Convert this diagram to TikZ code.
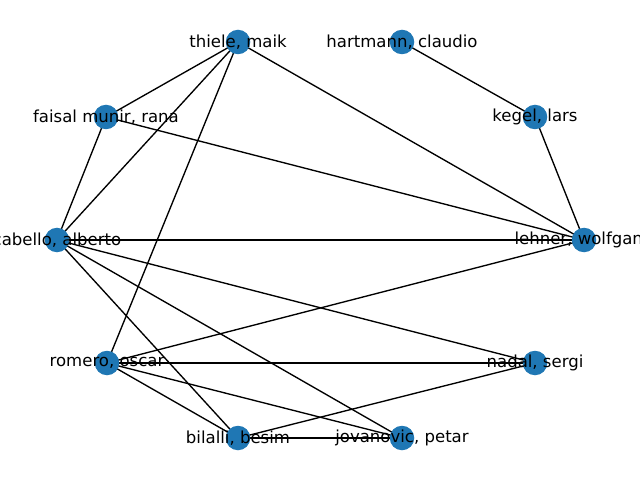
\documentclass[tikz,border=0pt]{standalone}
\usepackage{fontspec}
\setmainfont{DejaVu Sans}
\definecolor{nblue}{HTML}{1F77B4}
\begin{document}
\begin{tikzpicture}[x=1bp,y=-1bp,
  vtx/.style={circle,fill=nblue,minimum size=24.5bp,inner sep=0pt},
  lbl/.style={font=\fontsize{16.6}{20}\selectfont,inner sep=0pt},
  edge/.style={line width=1.35bp,black}]
\useasboundingbox (0,0) rectangle (640,480);
\clip (0,0) rectangle (640,480);
\coordinate (thiele) at (238,42);
\coordinate (hartmann) at (402,42);
\coordinate (faisal) at (106,117);
\coordinate (kegel) at (535,117);
\coordinate (cabello) at (57,240);
\coordinate (lehner) at (584,240);
\coordinate (romero) at (107,363);
\coordinate (nadal) at (535,363);
\coordinate (bilalli) at (238,438);
\coordinate (jovanovic) at (402,438);
\foreach \a/\b in {thiele/faisal,thiele/cabello,thiele/romero,thiele/lehner,hartmann/kegel,kegel/lehner,faisal/cabello,faisal/lehner,cabello/lehner,cabello/nadal,cabello/jovanovic,cabello/bilalli,romero/lehner,romero/nadal,romero/bilalli,romero/jovanovic,bilalli/jovanovic,bilalli/nadal}
  \draw[edge] (\a) -- (\b);
\foreach \n in {thiele,hartmann,faisal,kegel,cabello,lehner,romero,nadal,bilalli,jovanovic}
  \node[vtx] (v\n) at (\n) {};
\node[lbl] (tthiele) at (thiele) {thiele, maik};
\node[lbl] (thartmann) at (hartmann) {hartmann, claudio};
\node[lbl] (tfaisal) at (faisal) {faisal munir, rana};
\node[lbl] (tkegel) at (kegel) {kegel, lars};
\node[lbl] (tcabello) at (cabello) {cabello, alberto};
\node[lbl] (tlehner) at (lehner) {lehner, wolfgang};
\node[lbl] (tromero) at (romero) {romero, oscar};
\node[lbl] (tnadal) at (nadal) {nadal, sergi};
\node[lbl] (tbilalli) at (bilalli) {bilalli, besim};
\node[lbl] (tjovanovic) at (jovanovic) {jovanovic, petar};
\end{tikzpicture}
\end{document}
